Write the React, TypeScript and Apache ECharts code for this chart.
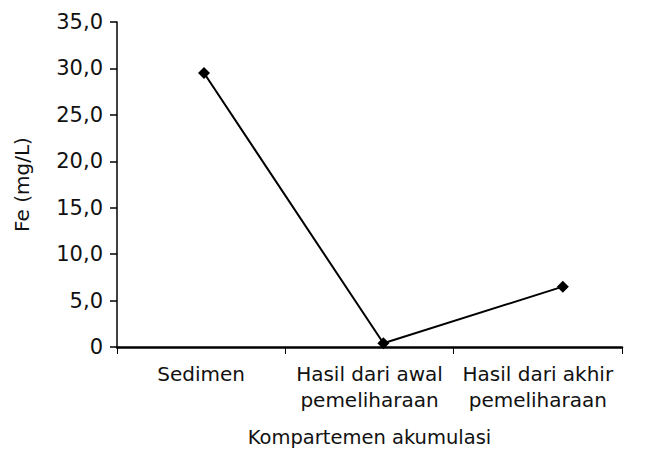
import React, { useEffect, useRef } from "react";
import * as echarts from "echarts";

const categories = ["Sedimen", "Hasil dari awal\npemeliharaan", "Hasil dari akhir\npemeliharaan"];
const feValues = [29.5, 0.4, 6.5];
const yTicks = { min: 0, max: 35, interval: 5 };
const xAxisTitle = "Kompartemen akumulasi";
const yAxisTitle = "Fe (mg/L)";

const FONT = "DejaVu Sans";

export default function App() {
  const ref = useRef<HTMLDivElement>(null);
  useEffect(() => {
    document.body.style.margin = "0";
    if (!ref.current) return;
    const chart = echarts.init(ref.current, undefined, { renderer: "svg" });
    const pts = feValues.map((v, i) => [i, v]);
    chart.setOption({
      animation: false,
      backgroundColor: "#ffffff",
      grid: {
        left: 117,
        right: 27,
        top: 22,
        bottom: 104,
        containLabel: false,
        outerBoundsMode: "none",
      },
      xAxis: [
        {
          type: "category",
          data: categories,
          boundaryGap: true,
          axisLine: { lineStyle: { color: "#000", width: 2.5 } },
          axisTick: { show: true, length: 7, lineStyle: { color: "#000", width: 1 } },
          axisLabel: {
            interval: 0,
            color: "#111",
            fontFamily: FONT,
            fontSize: 20,
            margin: 14,
            lineHeight: 26,
          },
          name: xAxisTitle,
          nameLocation: "middle",
          nameGap: 80,
          nameTextStyle: { color: "#111", fontFamily: FONT, fontSize: 19.5 },
        },
        {
          type: "value",
          min: -0.485,
          max: 2.33,
          show: false,
        },
      ],
      yAxis: {
        type: "value",
        min: yTicks.min,
        max: yTicks.max,
        interval: yTicks.interval,
        splitLine: { show: false },
        axisLine: { show: true, onZero: false, lineStyle: { color: "#000", width: 1.5 } },
        axisTick: { show: true, length: 7, lineStyle: { color: "#000", width: 1.5 } },
        axisLabel: {
          color: "#111",
          fontFamily: FONT,
          fontSize: 21,
          margin: 14,
          formatter: (v: number) => (v === 0 ? "0" : v.toFixed(1).replace(".", ",")),
        },
        name: yAxisTitle,
        nameLocation: "middle",
        nameGap: 85,
        nameRotate: 90,
        nameTextStyle: { color: "#111", fontFamily: FONT, fontSize: 20 },
      },
      series: [
        {
          type: "line",
          xAxisIndex: 1,
          data: pts,
          symbol: "diamond",
          symbolSize: 12,
          lineStyle: { color: "#000", width: 2 },
          itemStyle: { color: "#000" },
        },
      ],
    });
    return () => chart.dispose();
  }, []);
  return <div ref={ref} style={{ width: 649, height: 451 }} />;
}
